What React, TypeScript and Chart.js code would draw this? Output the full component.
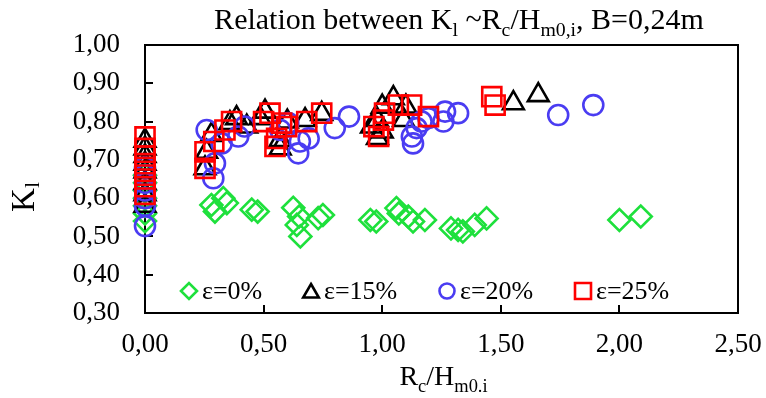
import React, { useEffect, useRef } from 'react';
import { Chart, registerables } from 'chart.js';

Chart.register(...registerables);

const FONT = "'Liberation Serif', 'Times New Roman', serif";

// Axis ticks
const xTickValues = [0, 0.5, 1.0, 1.5, 2.0, 2.5];
const yTickValues = [0.3, 0.4, 0.5, 0.6, 0.7, 0.8, 0.9, 1.0];

// Legend labels
const seriesLabels = ['ε=0%', 'ε=15%', 'ε=20%', 'ε=25%'];

// ε=0% (green diamonds)
const eps0X = [0, 0, 0, 0, 0, 0, 0, 0.28, 0.295, 0.33, 0.345, 0.45, 0.475, 0.625, 0.65, 0.64, 0.655, 0.73, 0.75, 0.95, 0.975, 1.06, 1.07, 1.11, 1.13, 1.18, 1.29, 1.32, 1.34, 1.39, 1.44, 2.0, 2.09];
const eps0Y = [0.54, 0.56, 0.58, 0.6, 0.62, 0.64, 0.66, 0.582, 0.565, 0.6, 0.587, 0.57, 0.565, 0.575, 0.552, 0.53, 0.5, 0.548, 0.556, 0.543, 0.539, 0.574, 0.56, 0.552, 0.539, 0.543, 0.521, 0.517, 0.513, 0.53, 0.547, 0.543, 0.552];

// ε=15% (black triangles)
const eps15X = [0, 0, 0, 0, 0, 0, 0, 0, 0.253, 0.26, 0.28, 0.358, 0.386, 0.429, 0.485, 0.506, 0.57, 0.57, 0.6, 0.675, 0.745, 0.955, 0.98, 1.0, 0.98, 1.0, 1.047, 1.09, 1.1, 1.553, 1.658];
const eps15Y = [0.58, 0.61, 0.64, 0.67, 0.69, 0.71, 0.73, 0.75, 0.678, 0.721, 0.765, 0.796, 0.809, 0.787, 0.809, 0.826, 0.752, 0.73, 0.8, 0.804, 0.82, 0.787, 0.757, 0.774, 0.804, 0.839, 0.861, 0.804, 0.839, 0.848, 0.869];

// ε=20% (blue circles)
const eps20X = [0, 0, 0, 0, 0, 0, 0, 0.26, 0.288, 0.295, 0.323, 0.393, 0.42, 0.57, 0.604, 0.646, 0.653, 0.69, 0.8, 0.86, 1.13, 1.125, 1.145, 1.166, 1.195, 1.258, 1.265, 1.32, 1.742, 1.89];
const eps20Y = [0.527, 0.58, 0.6, 0.62, 0.64, 0.66, 0.68, 0.778, 0.652, 0.691, 0.743, 0.761, 0.787, 0.778, 0.796, 0.717, 0.748, 0.756, 0.783, 0.813, 0.743, 0.761, 0.783, 0.8, 0.809, 0.8, 0.826, 0.822, 0.817, 0.843];

// ε=25% (red squares)
const eps25X = [0, 0, 0, 0, 0, 0, 0, 0, 0.253, 0.253, 0.29, 0.337, 0.365, 0.5, 0.527, 0.548, 0.555, 0.576, 0.597, 0.682, 0.745, 0.965, 0.985, 1.01, 1.005, 1.068, 1.124, 1.195, 1.462, 1.476];
const eps25Y = [0.61, 0.63, 0.65, 0.67, 0.69, 0.71, 0.73, 0.76, 0.678, 0.721, 0.748, 0.778, 0.8, 0.8, 0.822, 0.735, 0.756, 0.796, 0.787, 0.8, 0.822, 0.787, 0.761, 0.822, 0.804, 0.843, 0.843, 0.813, 0.865, 0.843];

const COLORS = ['#1ee03c', '#000000', '#4a3cf2', '#ff0000'];
const STYLES = ['rectRot', 'triangle', 'circle', 'rect'];
const RADII = [11, 12, 10, 13.5];

const zip = (xs: number[], ys: number[]) => xs.map((x, i) => ({ x, y: ys[i] }));
const fmt = (v: number) => v.toFixed(2).replace('.', ',');

type Part = [string, boolean];

function drawRich(ctx: CanvasRenderingContext2D, parts: Part[], x: number, y: number, size: number, align: 'left' | 'center', subShift = 0.24) {
  const subSize = size * 0.66;
  const widths = parts.map(([t, sub]) => {
    ctx.font = `${sub ? subSize : size}px ${FONT}`;
    return ctx.measureText(t).width;
  });
  const total = widths.reduce((a, b) => a + b, 0);
  let cx = align === 'center' ? x - total / 2 : x;
  ctx.textAlign = 'left';
  ctx.textBaseline = 'alphabetic';
  parts.forEach(([t, sub], i) => {
    ctx.font = `${sub ? subSize : size}px ${FONT}`;
    ctx.fillText(t, cx, sub ? y + size * subShift : y);
    cx += widths[i];
  });
}

function markerPath(ctx: CanvasRenderingContext2D, style: string, x: number, y: number, r: number) {
  ctx.beginPath();
  if (style === 'rectRot') {
    ctx.moveTo(x - r, y); ctx.lineTo(x, y - r); ctx.lineTo(x + r, y); ctx.lineTo(x, y + r); ctx.closePath();
  } else if (style === 'triangle') {
    ctx.moveTo(x, y - r); ctx.lineTo(x + r * 0.866, y + r * 0.5); ctx.lineTo(x - r * 0.866, y + r * 0.5); ctx.closePath();
  } else if (style === 'circle') {
    ctx.arc(x, y, r, 0, Math.PI * 2);
  } else {
    ctx.rect(x - r, y - r, 2 * r, 2 * r);
  }
}

const decorPlugin = {
  id: 'decor',
  beforeDatasetsDraw(chart: any) {
    const { ctx, chartArea: a, scales } = chart;
    ctx.save();
    ctx.strokeStyle = '#000';
    ctx.lineWidth = 2;
    ctx.strokeRect(a.left, a.top, a.right - a.left, a.bottom - a.top);
    ctx.beginPath();
    scales.y.ticks.forEach((t: any) => {
      const py = Math.round(scales.y.getPixelForValue(t.value));
      ctx.moveTo(a.left, py); ctx.lineTo(a.left + 8, py);
    });
    scales.x.ticks.forEach((t: any) => {
      const px = Math.round(scales.x.getPixelForValue(t.value));
      ctx.moveTo(px, a.bottom); ctx.lineTo(px, a.bottom - 8);
    });
    ctx.stroke();
    ctx.restore();
  },
  afterDraw(chart: any) {
    const { ctx, chartArea: a } = chart;
    ctx.save();
    ctx.fillStyle = '#000';
    // Title
    drawRich(ctx, [['Relation between K', false], ['l', true], [' ~R', false], ['c', true], ['/H', false], ['m0,i', true], [', B=0,24m', false]], 459, 29, 30, 'center');
    // X axis title
    drawRich(ctx, [['R', false], ['c', true], ['/H', false], ['m0.i', true]], (a.left + a.right) / 2 + 2, 385, 28, 'center');
    // Y axis title
    ctx.save();
    ctx.translate(34, 197);
    ctx.rotate(-Math.PI / 2);
    drawRich(ctx, [['K', false], ['l', true]], 0, 0, 33, 'center', 0.16);
    ctx.restore();
    // Legend
    const lx = [189, 311, 447, 583];
    const ly = 291;
    const lr = [8, 9, 7.5, 8];
    lx.forEach((x, i) => {
      ctx.strokeStyle = COLORS[i];
      ctx.lineWidth = 2.6;
      markerPath(ctx, STYLES[i], x, i === 1 ? ly + 2 : ly, lr[i]);
      ctx.stroke();
      ctx.fillStyle = '#000';
      ctx.font = `26px ${FONT}`;
      ctx.textAlign = 'left';
      ctx.textBaseline = 'middle';
      ctx.fillText(seriesLabels[i], x + 13, ly + 1);
    });
    ctx.restore();
  },
};

export default function App() {
  const ref = useRef<HTMLCanvasElement>(null);
  useEffect(() => {
    const series = [
      zip(eps0X, eps0Y),
      zip(eps15X, eps15Y),
      zip(eps20X, eps20Y),
      zip(eps25X, eps25Y),
    ];
    const chart = new Chart(ref.current as HTMLCanvasElement, {
      type: 'scatter',
      data: {
        datasets: series.map((d, i) => ({
          label: seriesLabels[i],
          data: d,
          pointStyle: STYLES[i] as any,
          pointRadius: RADII[i],
          pointHoverRadius: RADII[i],
          borderColor: COLORS[i],
          backgroundColor: 'rgba(0,0,0,0)',
          pointBorderWidth: 2.6,
          borderWidth: 2.6,
          clip: false as any,
          order: 4 - i,
        })),
      },
      options: {
        animation: false,
        responsive: false,
        events: [],
        layout: { padding: { top: 45, right: 28, left: 0, bottom: 0 } },
        plugins: { legend: { display: false }, title: { display: false }, tooltip: { enabled: false } },
        scales: {
          x: {
            type: 'linear',
            min: 0,
            max: 2.5,
            afterBuildTicks: (s: any) => { s.ticks = xTickValues.map((v) => ({ value: v })); },
            afterFit: (s: any) => { s.height = 85; s.paddingLeft = 0; s.paddingRight = 0; },
            grid: { display: false, drawTicks: false },
            border: { display: false },
            ticks: { color: '#000', font: { family: FONT, size: 27 }, padding: 16, maxRotation: 0, callback: (v: any) => fmt(Number(v)) },
          },
          y: {
            type: 'linear',
            min: 0.3,
            max: 1.0,
            afterBuildTicks: (s: any) => { s.ticks = yTickValues.map((v) => ({ value: v })); },
            afterFit: (s: any) => { s.width = 145; s.paddingTop = 0; s.paddingBottom = 0; },
            grid: { display: false, drawTicks: false },
            border: { display: false },
            ticks: { color: '#000', font: { family: FONT, size: 27 }, padding: 25, callback: (v: any) => fmt(Number(v)) },
          },
        },
      },
      plugins: [decorPlugin],
    });
    return () => chart.destroy();
  }, []);
  return (
    <div style={{ position: 'fixed', left: 0, top: 0, width: 766, height: 398, background: '#fff' }}>
      <canvas ref={ref} width={766} height={398} style={{ display: 'block', width: 766, height: 398 }} />
    </div>
  );
}
